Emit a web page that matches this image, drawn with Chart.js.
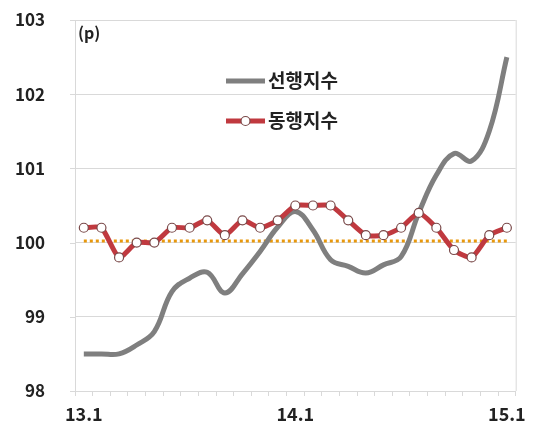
<!DOCTYPE html>
<html>
<head>
<meta charset="utf-8">
<script src="https://cdn.jsdelivr.net/npm/chart.js@4"></script>
<style>
  html, body { margin: 0; padding: 0; background: #fff; }
  #wrap { width: 533px; height: 432px; }
</style>
</head>
<body>
<div id="wrap"><canvas id="chart" width="533" height="432"></canvas></div>
<script>
const months = ["13.1","13.2","13.3","13.4","13.5","13.6","13.7","13.8","13.9","13.10","13.11","13.12",
  "14.1","14.2","14.3","14.4","14.5","14.6","14.7","14.8","14.9","14.10","14.11","14.12","15.1"];
const tickLabels = ["13.1", "14.1", "15.1"];
const leading = [98.5, 98.5, 98.5, 98.62, 98.8, 99.34, 99.52, 99.6, 99.32, 99.58, 99.88, 100.21,
  100.42, 100.17, 99.77, 99.68, 99.59, 99.7, 99.81, 100.4, 100.91, 101.2, 101.1, 101.5, 102.5];
const coincident = [100.2, 100.2, 99.8, 100.0, 100.0, 100.2, 100.2, 100.3, 100.1, 100.3, 100.2, 100.3,
  100.5, 100.5, 100.5, 100.3, 100.1, 100.1, 100.2, 100.4, 100.2, 99.9, 99.8, 100.1, 100.2];
const baseline = [100.02, 100.02, 100.02, 100.02, 100.02, 100.02, 100.02, 100.02, 100.02, 100.02, 100.02, 100.02,
  100.02, 100.02, 100.02, 100.02, 100.02, 100.02, 100.02, 100.02, 100.02, 100.02, 100.02, 100.02, 100.02];
const seriesNames = ["선행지수", "동행지수"];

const font = "'Noto Sans CJK KR', 'Noto Sans', sans-serif";

// legend + unit label + plot frame + short y tick marks
const extras = {
  id: "extras",
  afterDatasetsDraw(chart) {
    const ctx = chart.ctx;
    const a = chart.chartArea;
    const y = chart.scales.y;
    ctx.save();
    ctx.strokeStyle = "#d9d9d9";
    ctx.lineWidth = 1;
    ctx.beginPath();
    ctx.moveTo(a.right + 0.5, a.top);
    ctx.lineTo(a.right + 0.5, a.bottom);
    y.ticks.forEach(t => {
      const py = Math.round(y.getPixelForValue(t.value)) + 0.5;
      ctx.moveTo(a.left - 5, py);
      ctx.lineTo(a.left, py);
    });
    ctx.stroke();

    ctx.fillStyle = "#222";
    ctx.font = "bold 16px " + font;
    ctx.textBaseline = "middle";
    ctx.fillText("(p)", 78, 33);

    // legend
    const lx = 226, lw = 39;
    ctx.font = "bold 19px " + font;
    ctx.lineCap = "butt";
    ctx.strokeStyle = "#7f7f7f";
    ctx.lineWidth = 5;
    ctx.beginPath();
    ctx.moveTo(lx, 81); ctx.lineTo(lx + lw, 81);
    ctx.stroke();
    ctx.fillStyle = "#222";
    ctx.fillText(seriesNames[0], lx + lw + 3, 81);

    ctx.strokeStyle = "#c0393f";
    ctx.beginPath();
    ctx.moveTo(lx, 121); ctx.lineTo(lx + lw, 121);
    ctx.stroke();
    ctx.beginPath();
    ctx.arc(lx + lw / 2, 121, 4.5, 0, Math.PI * 2);
    ctx.fillStyle = "#fff";
    ctx.fill();
    ctx.strokeStyle = "#7a4a4a";
    ctx.lineWidth = 1.2;
    ctx.stroke();
    ctx.fillStyle = "#222";
    ctx.fillText(seriesNames[1], lx + lw + 3, 121);
    ctx.restore();
  }
};

new Chart(document.getElementById("chart"), {
  type: "line",
  data: {
    labels: months,
    datasets: [
      {
        label: "기준",
        data: baseline,
        borderColor: "#e8980c",
        borderWidth: 3,
        borderDash: [3, 3],
        pointRadius: 0,
        order: 3
      },
      {
        label: seriesNames[0],
        data: leading,
        borderColor: "#7f7f7f",
        borderWidth: 5,
        tension: 0.4,
        pointRadius: 0,
        order: 2
      },
      {
        label: seriesNames[1],
        data: coincident,
        borderColor: "#c0393f",
        borderWidth: 5,
        tension: 0.2,
        pointRadius: 4.5,
        pointBackgroundColor: "#fff",
        pointBorderColor: "#7a4a4a",
        pointBorderWidth: 1.2,
        order: 1
      }
    ]
  },
  options: {
    responsive: false,
    animation: false,
    layout: { padding: { top: 20, right: 14, left: 0, bottom: 0 } },
    plugins: {
      legend: { display: false },
      tooltip: { enabled: false }
    },
    scales: {
      x: {
        offset: true,
        grid: { offset: true, drawOnChartArea: false, drawTicks: true, tickLength: 5, color: "#d9d9d9" },
        border: { color: "#d9d9d9" },
        ticks: {
          autoSkip: false,
          maxRotation: 0,
          padding: 7,
          color: "#222",
          font: { family: font, size: 18, weight: "bold" },
          callback: function (v) {
            const l = this.getLabelForValue(v);
            return tickLabels.includes(l) ? l : "";
          }
        },
        afterFit: (s) => { s.height = 41; }
      },
      y: {
        min: 98,
        max: 103,
        ticks: {
          stepSize: 1,
          padding: 2,
          color: "#222",
          font: { family: font, size: 17, weight: "bold" }
        },
        grid: { color: "#d9d9d9", tickLength: 28, tickColor: "rgba(0,0,0,0)" },
        border: { color: "#d9d9d9" },
        afterFit: (s) => { s.width = 75; }
      }
    }
  },
  plugins: [extras]
});
</script>
</body>
</html>
